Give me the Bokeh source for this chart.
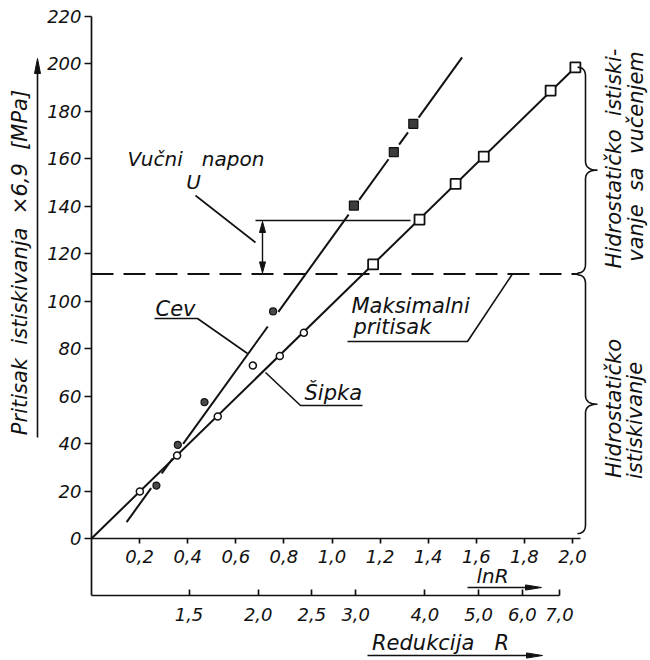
import numpy as np
from bokeh.plotting import figure
from bokeh.models import LinearAxis, FixedTicker, CustomJSTickFormatter, Label, Range1d
from bokeh.embed import file_html
from bokeh.resources import INLINE

# ---------------- data ----------------
cev_circle_lnr = [0.270, 0.359, 0.470, 0.755]
cev_circle_p = [22.3, 39.4, 57.4, 95.6]
cev_square_lnr = [1.091, 1.257, 1.338]
cev_square_p = [140.2, 162.7, 174.6]
sipka_circle_lnr = [0.201, 0.356, 0.525, 0.671, 0.783, 0.883]
sipka_circle_p = [19.8, 34.9, 51.4, 72.8, 76.8, 86.6]
sipka_square_lnr = [1.171, 1.364, 1.514, 1.631, 1.909, 2.012]
sipka_square_p = [115.4, 134.3, 149.3, 160.8, 188.6, 198.4]
cev_fit_lnr = [0.146, 1.541]
cev_fit_p = [6.9, 202.6]
sipka_fit_lnr = [0.0, 2.012]
sipka_fit_p = [0.0, 198.4]
max_pressure = 111.4
tension_top = 133.9
y_ticks = [0, 20, 40, 60, 80, 100, 120, 140, 160, 180, 200, 220]
lnr_ticks = [0.2, 0.4, 0.6, 0.8, 1.0, 1.2, 1.4, 1.6, 1.8, 2.0]
r_ticks = [1.5, 2.0, 2.5, 3.0, 4.0, 5.0, 6.0, 7.0]

# ---------------- layout helpers ----------------
W, H = 650, 660
X0, SX = 91.0, 240.5      # pixel of lnR = 0, pixels per unit
Y0, SY = 538.0, 2.375     # pixel of p = 0, pixels per unit


def dx(px):
    return (px - X0) / SX


def dy(py):
    return (Y0 - py) / SY


FONT = "DejaVu Sans"
BLACK = "#111111"
NB = "\u00a0"

p = figure(width=W, height=H,
           x_range=Range1d(dx(0), dx(W)), y_range=Range1d(dy(H), dy(0)),
           x_axis_type=None, y_axis_type=None,
           toolbar_location=None, output_backend="svg",
           min_border=0, outline_line_color=None,
           background_fill_color="white", border_fill_color="white")


def style_axis(ax):
    ax.axis_line_width = 1.7
    ax.axis_line_color = BLACK
    ax.major_tick_line_width = 1.7
    ax.major_tick_line_color = BLACK
    ax.minor_tick_line_color = None
    ax.major_label_text_font = FONT
    ax.major_label_text_font_style = "italic"
    ax.major_label_text_font_size = "18px"
    ax.major_label_text_color = BLACK


# y axis
yaxis = LinearAxis(fixed_location=0, bounds=(dy(595), 220),
                   ticker=FixedTicker(ticks=y_ticks),
                   major_tick_out=7, major_tick_in=0, major_label_standoff=3)
style_axis(yaxis)
p.add_layout(yaxis, "left")

# lnR axis at p = 0
lnaxis = LinearAxis(fixed_location=0, bounds=(0, dx(580)),
                    ticker=FixedTicker(ticks=lnr_ticks),
                    formatter=CustomJSTickFormatter(code="return tick.toFixed(1).replace('.', ',');"),
                    major_tick_out=5, major_tick_in=0, major_label_standoff=6)
style_axis(lnaxis)
p.add_layout(lnaxis, "below")

# Reduction R axis (log positions)
raxis = LinearAxis(fixed_location=dy(595), bounds=(0, float(np.log(7.0)) + 1e-9),
                   ticker=FixedTicker(ticks=[float(v) for v in np.log(r_ticks)]),
                   formatter=CustomJSTickFormatter(code="return Math.exp(tick).toFixed(1).replace('.', ',');"),
                   major_tick_out=0, major_tick_in=6, major_label_standoff=12)
style_axis(raxis)
p.add_layout(raxis, "below")


def pline(pts, width=1.6):
    p.line([dx(a) for a, _ in pts], [dy(b) for _, b in pts], line_width=width, line_color=BLACK)


def head(tx, ty, ux, uy, length=13, hw=2.8):
    bx, by = tx - ux * length, ty - uy * length
    nx, ny = -uy, ux
    xs = [tx, bx + nx * hw, bx - nx * hw]
    ys = [ty, by + ny * hw, by - ny * hw]
    p.patch([dx(v) for v in xs], [dy(v) for v in ys], fill_color=BLACK, line_color=BLACK, line_width=1)


# ---------------- main lines ----------------
p.line(sipka_fit_lnr, sipka_fit_p, line_width=2, line_color=BLACK)

slope = (cev_fit_p[1] - cev_fit_p[0]) / (cev_fit_lnr[1] - cev_fit_lnr[0])


def cev_line(x):
    return cev_fit_p[0] + (x - cev_fit_lnr[0]) * slope


cev_lnr = cev_circle_lnr + cev_square_lnr
cev_p = cev_circle_p + cev_square_p
gaps = sorted((x - 0.022, x + 0.022) for x, y in zip(cev_lnr, cev_p) if abs(y - cev_line(x)) < 4.5)
pieces = []
start = cev_fit_lnr[0]
for g0, g1 in gaps:
    if g0 > start:
        pieces.append((start, g0))
    start = max(start, g1)
pieces.append((start, cev_fit_lnr[1]))
p.multi_line([[a, b] for a, b in pieces], [[cev_line(a), cev_line(b)] for a, b in pieces],
             line_width=2, line_color=BLACK)

# maximum pressure dashed line
p.segment(x0=[0], y0=[max_pressure], x1=[dx(578)], y1=[max_pressure],
          line_width=2, line_color=BLACK, line_dash="22 10")

# ---------------- markers ----------------
p.scatter(sipka_circle_lnr, sipka_circle_p, marker="circle", size=7,
          fill_color="white", line_color=BLACK, line_width=1.5)
p.scatter(cev_circle_lnr, cev_circle_p, marker="circle", size=7,
          fill_color="#4a4a4a", line_color=BLACK, line_width=1.2)
p.scatter(sipka_square_lnr, sipka_square_p, marker="square", size=10,
          fill_color="white", line_color=BLACK, line_width=1.8)
p.scatter(cev_square_lnr, cev_square_p, marker="square", size=9,
          fill_color="#3c3c3c", line_color=BLACK, line_width=1.2)

# ---------------- tension stress bracket ----------------
ty = Y0 - tension_top * SY
my = Y0 - max_pressure * SY
pline([(255, ty), (410, ty)], 1.6)
pline([(262, ty + 10), (262, my - 10)], 1.4)
head(262, ty + 1, 0, -1, length=11, hw=3)
head(262, my - 1, 0, 1, length=11, hw=3)
pline([(195, 195), (255, 242)], 1.6)

# leaders and underlines
pline([(154, 318), (197, 318), (247, 353)], 1.6)
pline([(265, 372), (300, 405), (362, 405)], 1.6)
pline([(347, 341), (467, 341), (512, my)], 1.6)

# axis-title arrows
pline([(37, 437), (37, 66)], 1.6)
head(37, 58, 0, -1, length=15, hw=3)
pline([(467, 587), (530, 587)], 1.6)
head(541, 587, 1, 0, length=16, hw=2.6)
pline([(367, 655), (530, 655)], 1.6)
head(542, 655, 1, 0, length=16, hw=2.6)


# ---------------- braces ----------------
def brace(y_top, y_bot, xs=585, xe=577, xt=597, r=9):
    ym = (y_top + y_bot) / 2
    t = np.linspace(0, 1, 12)

    def quad(p0, c, p1):
        return [((1 - s) ** 2 * p0[0] + 2 * (1 - s) * s * c[0] + s ** 2 * p1[0],
                 (1 - s) ** 2 * p0[1] + 2 * (1 - s) * s * c[1] + s ** 2 * p1[1]) for s in t]
    pts = []
    pts += quad((xe, y_top), (xs, y_top), (xs, y_top + r))
    pts += quad((xs, ym - r), (xs, ym), (xt, ym))
    pts += quad((xt, ym), (xs, ym), (xs, ym + r))
    pts += quad((xs, y_bot - r), (xs, y_bot), (xe, y_bot))
    pline(pts, 1.6)


top_px = Y0 - max(sipka_square_p) * SY
brace(top_px, my - 1)
brace(my + 1, Y0 - 5)


# ---------------- texts ----------------
def text(x, y, s, size=20, align="left", angle=0.0):
    p.add_layout(Label(x=dx(x), y=dy(y), text=s, angle=angle,
                       text_font=FONT, text_font_style="italic",
                       text_font_size=f"{size}px", text_color=BLACK,
                       text_align=align, text_baseline="middle"))


text(127, 158, "Vučni" + NB * 3 + "napon", 20)
text(193, 181, "U", 20, align="center")
text(155, 308, "Cev", 21)
text(304, 392, "Šipka", 21)
text(351, 305, "Maksimalni", 21)
text(353, 326, "pritisak", 21)
text(492, 575, "lnR", 20, align="center")
text(440, 642, "Redukcija" + NB * 3 + "R", 21, align="center")
text(19, 262, NB.join(["Pritisak", "", "istiskivanja", "", "×6,9", "", "[MPa]"]), 21,
     align="center", angle=np.pi / 2)
text(613, 158, "Hidrostatičko" + NB * 2 + "istiski-", 21, align="center", angle=np.pi / 2)
text(635, 156, "vanje" + NB * 2 + "sa" + NB * 2 + "vučenjem", 21, align="center", angle=np.pi / 2)
text(613, 408, "Hidrostatičko", 21, align="center", angle=np.pi / 2)
text(634, 420, "istiskivanje", 21, align="center", angle=np.pi / 2)

open("out.html", "w").write(file_html(p, INLINE))
